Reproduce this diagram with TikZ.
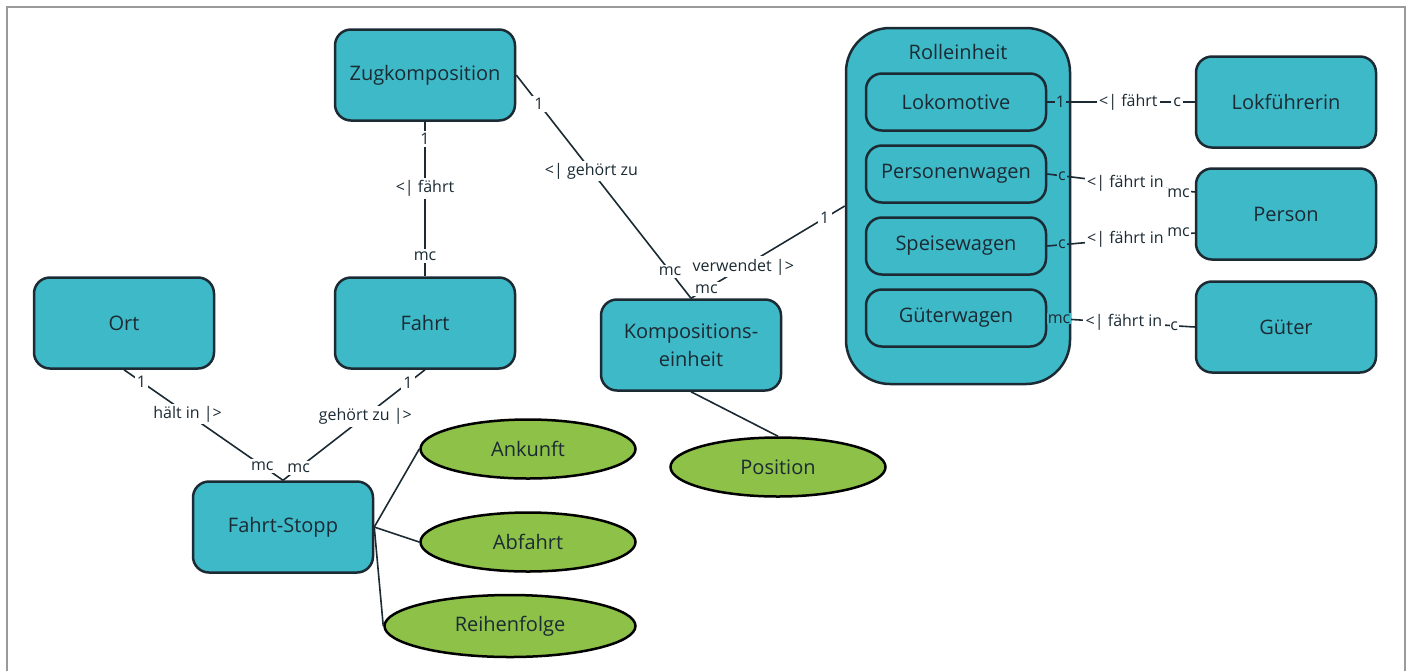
\documentclass[tikz,border=0pt]{standalone}
\usepackage{fontspec}
\setmainfont{Open Sans}
\usetikzlibrary{shapes.geometric,calc}
\definecolor{entityfill}{HTML}{3EB9C8}
\definecolor{attrfill}{HTML}{8DC148}
\definecolor{inkdark}{HTML}{1B2A33}
\definecolor{framegray}{HTML}{9A9A9A}
\tikzset{
  entity/.style={draw=inkdark, line width=1.25pt, fill=entityfill, rounded corners=8pt,
    minimum width=90pt, minimum height=45.5pt, inner sep=0pt, text=inkdark,
    font=\fontsize{10}{14}\selectfont, align=center},
  subentity/.style={entity, minimum height=28.5pt},
  attr/.style={draw=black, line width=1.25pt, fill=attrfill, ellipse, inner sep=0pt,
    minimum width=107.5pt, minimum height=29.5pt, text=inkdark, font=\fontsize{10}{12}\selectfont},
  conn/.style={draw=inkdark, line width=0.8pt},
  lbl/.style={fill=white, inner sep=1.2pt, text=inkdark, font=\fontsize{8}{9}\selectfont},
  lblin/.style={lbl, fill=entityfill, inner sep=0.4pt},
  lblend/.style={lbl, inner sep=0.4pt},
  plain/.style={inner sep=0pt, text=inkdark, font=\fontsize{10}{12}\selectfont}
}
\begin{document}
\begin{tikzpicture}[x=0.5pt,y=-0.5pt]
\useasboundingbox (0,0) rectangle (1413,671);
% outer frame, open at the bottom
\draw[framegray, line width=1pt] (7,671) -- (7,7) -- (1405,7) -- (1405,671);

% entities
\node[entity] (zug) at (425,75) {Zugkomposition};
\node[entity] (fahrt) at (425,323) {Fahrt};
\node[entity] (ort) at (124,323) {Ort};
\node[entity] (stopp) at (283,527) {Fahrt-Stopp};
\node[entity] (komp) at (691,345) {Kompositions-\\einheit};

% rolling unit container with its kinds
\node[entity, rounded corners=22pt, minimum width=112pt, minimum height=178pt] (rolle) at (958,206) {};
\node[plain] (rolletitle) at (958,52) {Rolleinheit};
\node[subentity] (lok) at (956,102) {Lokomotive};
\node[subentity] (pw) at (956,174) {Personenwagen};
\node[subentity] (sw) at (956,246) {Speisewagen};
\node[subentity] (gw) at (956,318) {Güterwagen};

\node[entity] (fuehrer) at (1286,102) {Lokführerin};
\node[entity] (person) at (1286,214) {Person};
\node[entity] (gueter) at (1286,327) {Güter};

% attributes
\node[attr] (ankunft) at (528,449) {Ankunft};
\node[attr] (abfahrt) at (528,542) {Abfahrt};
\node[attr, minimum width=125.5pt, minimum height=31pt] (reihe) at (510,626) {Reihenfolge};
\node[attr] (position) at (778,467) {Position};

% relationships
\draw[conn] (zug.south) -- (fahrt.north)
  node[lbl,pos=.11]{1} node[lbl,pos=.43]{<| fährt} node[lbl,pos=.87]{mc};
\draw[conn] (zug.east) -- (komp.north)
  node[lbl,pos=.13]{1} node[lbl,pos=.43]{<| gehört zu} node[lbl,pos=.88]{mc};
\draw[conn] (komp.north) -- (rolle.west)
  node[lbl,pos=.10]{mc} node[lbl,pos=.34]{verwendet |>} node[lbl,pos=.87]{1};
\draw[conn] (ort.south) -- (stopp.north)
  node[lbl,pos=.11]{1} node[lbl,pos=.40]{hält in |>} node[lbl,pos=.87]{mc};
\draw[conn] (fahrt.south) -- (stopp.north)
  node[lbl,pos=.12]{1} node[lbl,pos=.42]{gehört zu |>} node[lbl,pos=.89]{mc};

\draw[conn] (lok.east) -- (fuehrer.west)
  node[lblin,pos=.09]{1} node[lbl,pos=.55]{<| fährt} node[lbl,pos=.88]{c};
\draw[conn] (pw.east) -- ($(person.west)+(0,-22)$)
  node[lblin,pos=.10]{c} node[lbl,pos=.53]{<| fährt in} node[lblend,pos=.89,yshift=-1.5pt]{mc};
\draw[conn] (sw.east) -- ($(person.west)+(0,19)$)
  node[lblin,pos=.10]{c} node[lbl,pos=.53]{<| fährt in} node[lblend,pos=.89,yshift=1pt]{mc};
\draw[conn] (gw.east) -- (gueter.west)
  node[lblin,pos=.08]{mc} node[lbl,pos=.52]{<| fährt in} node[lblend,pos=.86]{c};

% attribute links
\draw[conn] (stopp.east) -- (ankunft.west);
\draw[conn] (stopp.east) -- (abfahrt.west);
\draw[conn] (stopp.east) -- (reihe.west);
\draw[conn] (komp.south) -- (position.north);
\end{tikzpicture}
\end{document}
